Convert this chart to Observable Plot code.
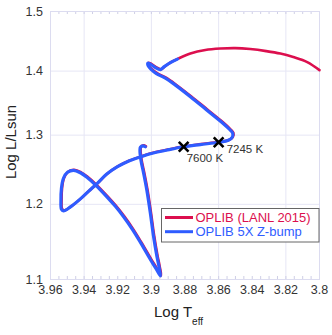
<!DOCTYPE html>
<html>
<head>
<meta charset="utf-8">
<script src="https://cdn.jsdelivr.net/npm/d3@7"></script>
<script src="https://cdn.jsdelivr.net/npm/@observablehq/plot@0.6"></script>
<style>
  html, body { margin: 0; padding: 0; background: #fff; }
  #chart { width: 332px; height: 335px; }
</style>
</head>
<body>
<div id="chart"></div>
<script>
// ---- data ----
const seriesNames = ["OPLIB (LANL 2015)", "OPLIB 5X Z-bump"];

const redLogT = [3.800, 3.8073, 3.8156, 3.8233, 3.8317, 3.8412, 3.8501, 3.8590, 3.8679, 3.8768,
  3.8841, 3.8883, 3.8919, 3.8942, 3.8972, 3.9002, 3.9017, 3.9014, 3.8996, 3.8966,
  3.8913, 3.8853, 3.8764, 3.8669, 3.8574, 3.8532, 3.8512, 3.8515, 3.8538, 3.8596,
  3.8705, 3.8804, 3.8907, 3.9002, 3.9061, 3.9133, 3.9200, 3.9263, 3.9319, 3.9370,
  3.9418, 3.9477, 3.9519, 3.9531, 3.9534, 3.9531, 3.9519, 3.9495, 3.9459, 3.9418,
  3.9376, 3.9329, 3.9259, 3.9210, 3.9160, 3.9109, 3.9061, 3.9002, 3.8969, 3.8942,
  3.8951, 3.8963, 3.8984, 3.9002, 3.9023, 3.9042, 3.9058, 3.9064, 3.9061, 3.9046, 3.9032];
const redLogL = [1.4016, 1.4147, 1.4229, 1.4287, 1.4328, 1.4362, 1.4378, 1.4370, 1.4345, 1.4287,
  1.4203, 1.4146, 1.4080, 1.4031, 1.4064, 1.4121, 1.4137, 1.4088, 1.4031, 1.3966,
  1.3894, 1.3782, 1.3599, 1.3396, 1.3195, 1.3096, 1.3036, 1.2975, 1.2930, 1.2900,
  1.2866, 1.2833, 1.2782, 1.2730, 1.2683, 1.2620, 1.2537, 1.2431, 1.2298, 1.2189,
  1.2083, 1.1972, 1.1916, 1.1937, 1.2062, 1.2231, 1.2374, 1.2460, 1.2489, 1.2453,
  1.2381, 1.2281, 1.2108, 1.1979, 1.1831, 1.1664, 1.1489, 1.1265, 1.1149, 1.1052,
  1.1175, 1.1305, 1.1583, 1.1882, 1.2203, 1.2445, 1.2634, 1.2782, 1.2826, 1.2848, 1.2833];

const blueLogT = [3.8845, 3.8887, 3.8923, 3.8946, 3.8976, 3.9006, 3.9021, 3.9018, 3.9000, 3.8970,
  3.8917, 3.8857, 3.8768, 3.8673, 3.8578, 3.8536, 3.8516, 3.8519, 3.8542, 3.8600,
  3.8709, 3.8808, 3.8911, 3.9006, 3.9065, 3.9137, 3.9204, 3.9267, 3.9323, 3.9374,
  3.9422, 3.9481, 3.9523, 3.9535, 3.9538, 3.9535, 3.9523, 3.9499, 3.9463, 3.9422,
  3.9380, 3.9333, 3.9263, 3.9214, 3.9164, 3.9113, 3.9065, 3.9006, 3.8973, 3.8946,
  3.8955, 3.8967, 3.8988, 3.9006, 3.9027, 3.9046, 3.9062, 3.9068, 3.9065, 3.9050, 3.9036];
const blueLogL = [1.4196, 1.4139, 1.4073, 1.4024, 1.4057, 1.4114, 1.4130, 1.4081, 1.4024, 1.3959,
  1.3887, 1.3775, 1.3592, 1.3389, 1.3188, 1.3089, 1.3029, 1.2968, 1.2923, 1.2893,
  1.2859, 1.2826, 1.2775, 1.2723, 1.2676, 1.2613, 1.2530, 1.2424, 1.2291, 1.2182,
  1.2076, 1.1965, 1.1909, 1.1930, 1.2055, 1.2224, 1.2367, 1.2453, 1.2482, 1.2446,
  1.2374, 1.2274, 1.2101, 1.1972, 1.1824, 1.1657, 1.1482, 1.1258, 1.1142, 1.1045,
  1.1168, 1.1298, 1.1576, 1.1875, 1.2196, 1.2438, 1.2627, 1.2775, 1.2819, 1.2841, 1.2826];

const markLogT = [3.8600, 3.8808];
const markLogL = [1.2893, 1.2826];
const markLabels = ["7245 K", "7600 K"];

const xTicks = [3.96, 3.94, 3.92, 3.90, 3.88, 3.86, 3.84, 3.82, 3.80];
const xGrid = [3.94, 3.90, 3.86, 3.82];
const yTicks = [1.1, 1.2, 1.3, 1.4, 1.5];
const yGrid = [1.2, 1.3, 1.4];
const xMinor = d3.range(0, 33).map(i => +(3.80 + i * 0.005).toFixed(3));

// ---- styles ----
const RED = "#dc0f4e";
const BLUE = "#2f5cff";
const FONT = "'Liberation Sans', Arial, Helvetica, sans-serif";

const red = redLogT.map((t, i) => ({t, l: redLogL[i]}));
const blue = blueLogT.map((t, i) => ({t, l: blueLogL[i]}));
const marks = markLogT.map((t, i) => ({t, l: markLogL[i], label: markLabels[i]}));

const svg = Plot.plot({
  width: 332,
  height: 335,
  marginLeft: 50,
  marginRight: 13,
  marginTop: 11,
  marginBottom: 56,
  style: {fontFamily: FONT, fontSize: "13px", color: "#333", background: "#fff"},
  x: {domain: [3.96, 3.80]},
  y: {type: "log", domain: [1.1, 1.5]},
  marks: [
    Plot.gridX(xGrid, {stroke: "#e6e6f5", strokeOpacity: 1}),
    Plot.gridY(yGrid, {stroke: "#e6e6f5", strokeOpacity: 1}),
    Plot.ruleX(xMinor, {stroke: "#cfcfe6", insetBottom: 265}),
    Plot.ruleX(xMinor, {stroke: "#cfcfe6", insetTop: 265}),
    Plot.frame({stroke: "#dcdcf0"}),
    Plot.axisX({ticks: xTicks, tickSize: 0, tickPadding: 6, label: null,
      tickFormat: d => String(+d.toFixed(2)), fontSize: 12.5}),
    Plot.axisY({ticks: yTicks, tickSize: 0, tickPadding: 7.5, label: null,
      tickFormat: d => d.toFixed(1), fontSize: 12.5}),
    Plot.line(red, {x: "t", y: "l", stroke: RED, strokeWidth: 2.6, curve: "catmull-rom"}),
    Plot.line(blue, {x: "t", y: "l", stroke: BLUE, strokeWidth: 3.2, curve: "catmull-rom"}),
    Plot.dot(marks, {x: "t", y: "l", symbol: "times", r: 4.5, stroke: "#000", strokeWidth: 2.6}),
    Plot.text(marks.filter(d => d.label === "7245 K"), {x: "t", y: "l", text: "label",
      textAnchor: "start", dx: 8, dy: 7, fill: "#333", fontSize: 11.5}),
    Plot.text(marks.filter(d => d.label === "7600 K"), {x: "t", y: "l", text: "label",
      textAnchor: "start", dx: 3, dy: 12, fill: "#333", fontSize: 11.5})
  ]
});

const s = d3.select(svg);
// Axis titles
const xt = s.append("text")
  .attr("x", 154).attr("y", 317).attr("text-anchor", "start")
  .attr("font-family", FONT).attr("font-size", 15).style("fill", "#222");
xt.append("tspan").text("Log T");
xt.append("tspan").attr("font-size", 10).attr("dy", 8).text("eff");

s.append("text")
  .attr("transform", "translate(16,142) rotate(-90)")
  .attr("text-anchor", "middle")
  .attr("font-family", FONT).attr("font-size", 15).style("fill", "#222")
  .text("Log L/Lsun");

// Legend
const lg = s.append("g").attr("font-family", FONT).attr("font-size", 13)
  .attr("text-anchor", "start");
lg.append("rect").attr("x", 161.5).attr("y", 208.5).attr("width", 157.5).attr("height", 33.5)
  .attr("fill", "#fff").attr("stroke", "#666").attr("stroke-width", 1);
const colors = [RED, BLUE];
seriesNames.forEach((name, i) => {
  const y = 217.5 + i * 14.2;
  lg.append("line").attr("x1", 165).attr("x2", 193).attr("y1", y).attr("y2", y)
    .attr("stroke", colors[i]).attr("stroke-width", 3);
  lg.append("text").attr("x", 195.5).attr("y", y).attr("dy", "0.35em")
    .attr("text-anchor", "start")
    .style("fill", colors[i]).text(name);
});

document.getElementById("chart").appendChild(svg);
</script>
</body>
</html>
